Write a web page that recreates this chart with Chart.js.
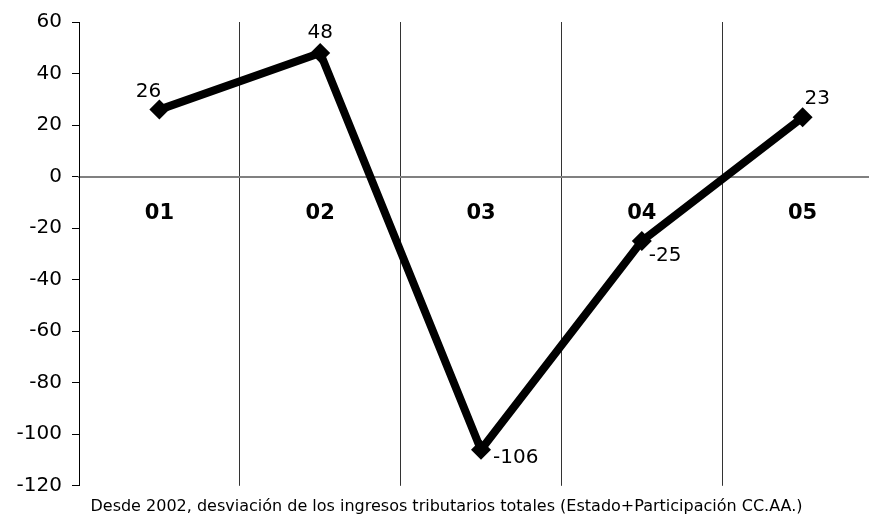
<!DOCTYPE html>
<html lang="es">
<head>
    <meta charset="UTF-8">
    <title>Desviación de los ingresos tributarios</title>
    <script src="https://cdn.jsdelivr.net/npm/chart.js@4.4.1/dist/chart.umd.min.js"></script>
    <style>
        html, body { margin: 0; padding: 0; overflow: hidden; background: #fff; }
        #wrap { width: 893px; height: 516px; }
    </style>
</head>
<body>
<div id="wrap"><canvas id="myChart"></canvas></div>
<script>

    const years = ["01", "02", "03", "04", "05"];
    const desviacion = [26, 48, -106, -25, 23];
    const yTicks = [60, 40, 20, 0, -20, -40, -60, -80, -100, -120];

    // where each value label sits relative to its point
    const labelPos = [
        { dx: -11, dy: -18, align: "center" },
        { dx: 0, dy: -20, align: "center" },
        { dx: 12, dy: 8, align: "left" },
        { dx: 7, dy: 15, align: "left" },
        { dx: 2, dy: -19, align: "left" }
    ];

    const valueLabels = {
        id: "valueLabels",
        afterDatasetsDraw(chart) {
            const ctx = chart.ctx;
            const meta = chart.getDatasetMeta(0);
            ctx.save();
            ctx.fillStyle = "#000";
            ctx.font = "20px 'DejaVu Sans'";
            ctx.textBaseline = "middle";
            meta.data.forEach((pt, i) => {
                const p = labelPos[i];
                ctx.textAlign = p.align;
                ctx.fillText(String(desviacion[i]), pt.x + p.dx, pt.y + p.dy);
            });
            ctx.restore();
        }
    };

    const myChart = new Chart("myChart", {
        type: "line",
        data: {
            labels: years,
            datasets: [{
                data: desviacion,
                borderColor: "#000",
                backgroundColor: "#000",
                borderWidth: 8,
                pointStyle: "rectRot",
                pointRadius: 10,
                pointBorderWidth: 0,
                tension: 0,
                clip: false
            }]
        },
        options: {
            responsive: true,
            maintainAspectRatio: false,
            animation: false,
            layout: { padding: { top: 12, right: 0, bottom: 0, left: 0 } },
            plugins: {
                legend: { display: false },
                tooltip: { enabled: false },
                title: {
                    display: true,
                    position: "bottom",
                    text: "Desde 2002, desviación de los ingresos tributarios totales (Estado+Participación CC.AA.)",
                    color: "#000",
                    font: { family: "'DejaVu Sans'", size: 16, weight: "normal" },
                    padding: { top: 11, bottom: 0 }
                }
            },
            scales: {
                x: {
                    type: "category",
                    position: { y: 0 },
                    offset: true,
                    grid: {
                        offset: true,
                        color: "#333",
                        lineWidth: 1,
                        tickLength: 5,
                        drawTicks: true
                    },
                    border: { color: "#808080", width: 2 },
                    ticks: {
                        color: "#000",
                        padding: 19,
                        font: { family: "'DejaVu Sans'", size: 21, weight: "bold" }
                    }
                },
                y: {
                    min: -120,
                    max: 60,
                    afterFit(scale) { scale.width = 79; },
                    afterBuildTicks(scale) { scale.ticks = yTicks.map(v => ({ value: v })); },
                    grid: {
                        drawOnChartArea: false,
                        color: "#000",
                        tickLength: 7
                    },
                    border: { color: "#000", width: 1 },
                    ticks: {
                        color: "#000",
                        padding: 10,
                        font: { family: "'DejaVu Sans'", size: 20 }
                    }
                }
            }
        },
        plugins: [valueLabels]
    });
</script>
</body>
</html>
